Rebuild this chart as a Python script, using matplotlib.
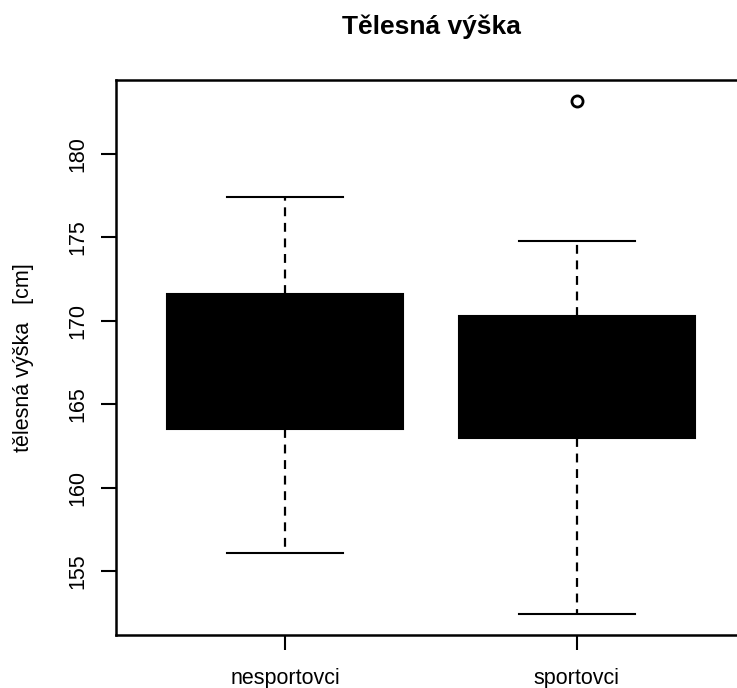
import matplotlib.pyplot as plt

plt.rcParams['font.family'] = ['Liberation Sans', 'DejaVu Sans']

groups = ['nesportovci', 'sportovci']
whisker_low = [156.1, 152.4]
q1 = [163.5, 163.0]
median = [167.5, 166.5]
q3 = [171.6, 170.3]
whisker_high = [177.4, 174.8]
outliers = [[], [183.2]]

stats = []
for i in range(len(groups)):
    stats.append({'label': groups[i], 'whislo': whisker_low[i], 'q1': q1[i],
                  'med': median[i], 'q3': q3[i], 'whishi': whisker_high[i],
                  'fliers': outliers[i]})

fig = plt.figure(figsize=(7.37, 6.88), dpi=100)
ax = fig.add_axes([116 / 737, 1 - 635 / 688, (746 - 116) / 737, (635 - 80) / 688])

ax.bxp(stats, positions=[1, 2], widths=0.81, patch_artist=True,
       boxprops=dict(facecolor='black', edgecolor='black', linewidth=1.5),
       medianprops=dict(color='black', linewidth=3),
       whiskerprops=dict(color='black', linestyle=(0, (4, 3)), linewidth=1.6),
       capprops=dict(color='black', linewidth=1.5),
       capwidths=0.4,
       flierprops=dict(marker='o', markerfacecolor='none', markeredgecolor='black',
                       markersize=8, markeredgewidth=2))

ax.set_xlim(0.42, 2.58)
ax.set_ylim(151.16, 184.44)
ax.set_yticks([155, 160, 165, 170, 175, 180])
ax.set_xticks([1, 2])
ax.set_xticklabels(groups)
for lbl in ax.get_yticklabels():
    lbl.set_rotation(90)
    lbl.set_va('center')
ax.tick_params(axis='both', length=11, width=1.5, labelsize=15.5)
ax.tick_params(axis='y', pad=9)
ax.tick_params(axis='x', pad=13)
for s in ax.spines.values():
    s.set_linewidth(1.8)

ax.set_ylabel('tělesná výška   [cm]', fontsize=15.5)
ax.yaxis.set_label_coords(-0.13, 0.5)
fig.text(431 / 737, 1 - 27 / 688, 'Tělesná výška', ha='center', va='center',
         fontsize=19, fontweight='bold')

fig.savefig('out.png', dpi=100)
